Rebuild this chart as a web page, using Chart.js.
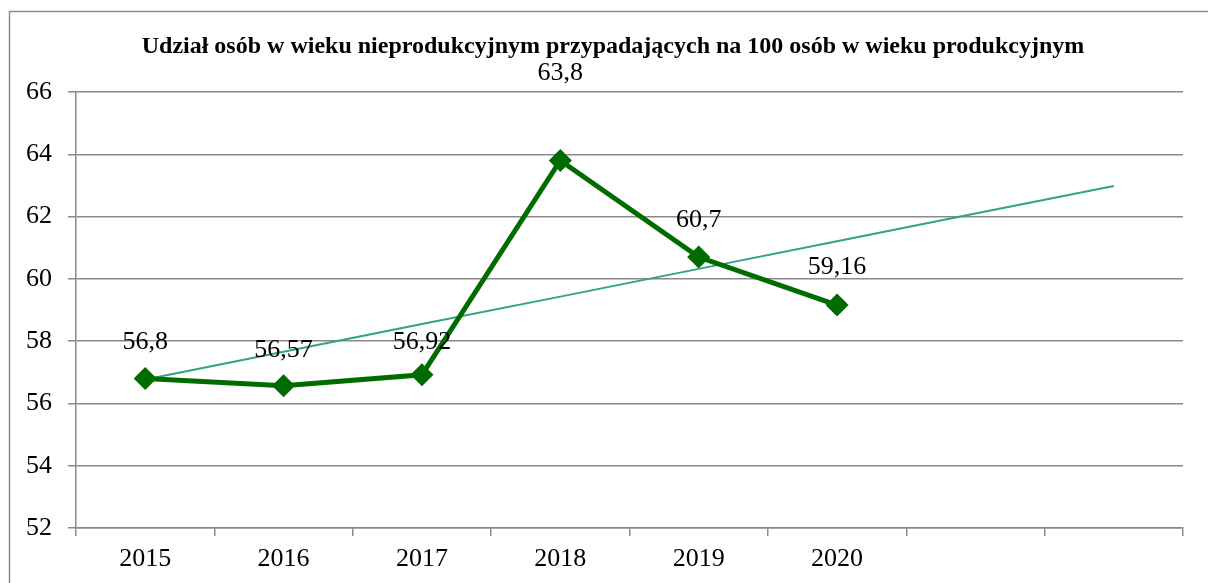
<!DOCTYPE html>
<html>
<head>
<meta charset="utf-8">
<script src="https://cdn.jsdelivr.net/npm/chart.js@4"></script>
<style>
  html, body { margin: 0; padding: 0; background: #fff; }
  #wrap { width: 1208px; height: 583px; position: relative; }
</style>
</head>
<body>
<div id="wrap"><canvas id="chart"></canvas></div>
<script>
const years = ['2015', '2016', '2017', '2018', '2019', '2020', '', ''];
const shareValues = [56.8, 56.57, 56.92, 63.8, 60.7, 59.16, null, null];
const trendValues = [56.77, 57.66, 58.55, 59.43, 60.32, 61.21, 62.10, 62.98];
const yTicks = [52, 54, 56, 58, 60, 62, 64, 66];
const labelLift = [36, 36, 33, 87, 37, 38];
const chartTitle = 'Udział osób w wieku nieprodukcyjnym przypadających na 100 osób w wieku produkcyjnym';

const serif = '"Liberation Serif", "Times New Roman", serif';

// ramka wokół wykresu + tytuł (przesunięty jak w oryginale)
const frame = {
  id: 'frame',
  beforeDraw(chart) {
    const c = chart.ctx;
    c.save();
    c.strokeStyle = '#8a8a8a';
    c.lineWidth = 1.5;
    c.strokeRect(9.5, 11.5, 1400, 800);
    c.font = 'bold 24px ' + serif;
    c.fillStyle = '#000';
    c.textAlign = 'center';
    c.textBaseline = 'middle';
    c.fillText(chartTitle, 613, 47);
    c.restore();
  }
};

// etykiety wartości nad punktami
const valueLabels = {
  id: 'valueLabels',
  afterDatasetsDraw(chart) {
    const c = chart.ctx;
    const meta = chart.getDatasetMeta(0);
    c.save();
    c.font = '26px ' + serif;
    c.fillStyle = '#000';
    c.textAlign = 'center';
    c.textBaseline = 'middle';
    meta.data.forEach((pt, i) => {
      const v = shareValues[i];
      if (v == null) return;
      c.fillText(String(v).replace('.', ','), pt.x, pt.y - labelLift[i]);
    });
    c.restore();
  }
};

new Chart(document.getElementById('chart'), {
  type: 'line',
  data: {
    labels: years,
    datasets: [
      {
        data: shareValues,
        borderColor: '#006c00',
        backgroundColor: '#006c00',
        borderWidth: 5,
        pointStyle: 'rectRot',
        pointRadius: 8,
        pointHoverRadius: 8,
        tension: 0
      },
      {
        data: trendValues,
        borderColor: '#2fa585',
        borderWidth: 2,
        pointRadius: 0,
        tension: 0
      }
    ]
  },
  options: {
    responsive: true,
    maintainAspectRatio: false,
    animation: false,
    layout: { padding: { left: 0, right: 25, top: 92, bottom: 0 } },
    plugins: {
      legend: { display: false },
      tooltip: { enabled: false },
      title: { display: false }
    },
    scales: {
      x: {
        offset: true,
        grid: { display: true, drawOnChartArea: false, offset: true, tickLength: 8, color: '#8a8a8a', lineWidth: 1.5 },
        border: { color: '#8a8a8a', width: 1.5 },
        ticks: { color: '#000', font: { family: serif, size: 26 }, padding: 8, maxRotation: 0, autoSkip: false },
        afterFit(scale) { scale.height = 55; }
      },
      y: {
        min: 52,
        max: 66,
        afterBuildTicks(scale) { scale.ticks = yTicks.map(v => ({ value: v })); },
        grid: { color: '#8a8a8a', lineWidth: 1.5, tickLength: 8 },
        border: { color: '#8a8a8a', width: 1.5 },
        ticks: { color: '#000', font: { family: serif, size: 26 }, padding: 16 },
        afterFit(scale) { scale.width = 76; }
      }
    }
  },
  plugins: [frame, valueLabels]
});
</script>
</body>
</html>
